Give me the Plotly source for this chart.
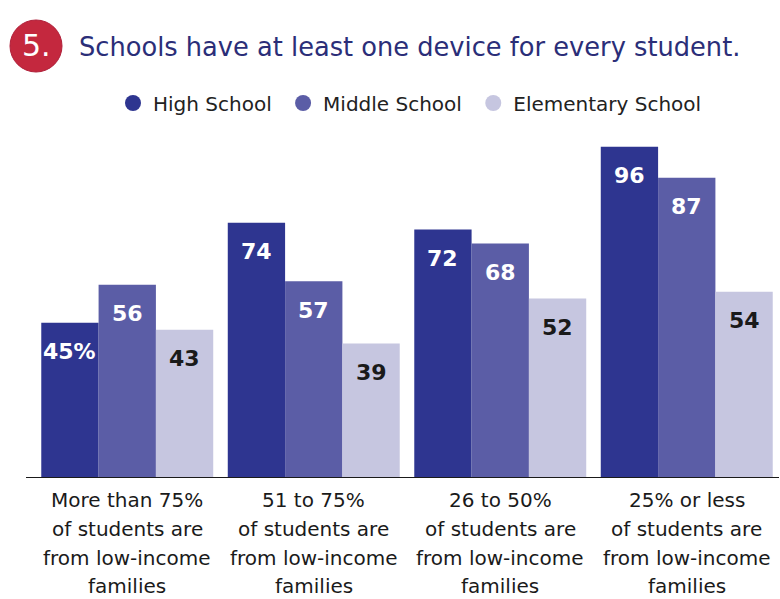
import plotly.graph_objects as go

categories = ["More than 75%", "51 to 75%", "26 to 50%", "25% or less"]
category_lines = [["More than 75%", "of students are", "from low-income", "families"],
                  ["51 to 75%", "of students are", "from low-income", "families"],
                  ["26 to 50%", "of students are", "from low-income", "families"],
                  ["25% or less", "of students are", "from low-income", "families"]]
series_names = ["High School", "Middle School", "Elementary School"]
high_school = [45, 74, 72, 96]
middle_school = [56, 57, 68, 87]
elementary_school = [43, 39, 52, 54]
values = [high_school, middle_school, elementary_school]
colors = ["#2e3590", "#5b5da6", "#c6c6e0"]
label_colors = ["white", "white", "#1a1a1a"]

W, H = 780, 599
L, R, T, B = 34, 0, 130, 121
PW, PH = W - L - R, H - T - B
FONT = "DejaVu Sans"

def px2paper_x(px):
    return (px - L) / PW

def px2paper_y(py):
    return (H - B - py) / PH

fig = go.Figure()
for name, vals, col in zip(series_names, values, colors):
    fig.add_trace(go.Bar(x=categories, y=vals, name=name, marker=dict(color=col, line=dict(width=0)),
                         showlegend=False, hoverinfo="skip"))
for name, col in zip(series_names, colors):
    fig.add_trace(go.Scatter(x=[None], y=[None], mode="markers", name=name + "\u00a0",
                             marker=dict(symbol="circle", size=20, color=col)))

bar_px = PW / 4 * (1 - 0.078) / 3
annotations = []
for si, (vals, lc) in enumerate(zip(values, label_colors)):
    for ci, v in enumerate(vals):
        txt = f"{v}%" if (si == 0 and ci == 0) else str(v)
        annotations.append(dict(x=categories[ci], y=v, text=f"<b>{txt}</b>", showarrow=False,
                                xshift=(si - 1) * bar_px, yshift=-29, yanchor="middle",
                                font=dict(family=FONT, size=22, color=lc)))

# category labels, one line each (line spacing as in the reference)
line_px = [500, 529, 558, 586]
for ci, lines in enumerate(category_lines):
    for li, line in enumerate(lines):
        annotations.append(dict(x=categories[ci], yref="paper", y=px2paper_y(line_px[li]), text=line,
                                showarrow=False, xanchor="center", yanchor="middle",
                                font=dict(family=FONT, size=20, color="#1a1a1a")))

# title
annotations.append(dict(xref="paper", yref="paper", x=px2paper_x(36), y=px2paper_y(46),
                        text="5.", showarrow=False, xanchor="center", yanchor="middle",
                        font=dict(family=FONT, size=30, color="white")))
annotations.append(dict(xref="paper", yref="paper", x=px2paper_x(77), y=px2paper_y(47),
                        text="Schools have at least one device for every student.", showarrow=False,
                        xanchor="left", yanchor="middle",
                        font=dict(family=FONT, size=25.7, color="#2b2e78")))

shapes = [
    dict(type="circle", xref="paper", yref="paper",
         x0=px2paper_x(10), x1=px2paper_x(62), y0=px2paper_y(72), y1=px2paper_y(20),
         fillcolor="#c4283e", line=dict(color="#b0203a", width=1), layer="above"),
    dict(type="line", xref="paper", yref="y", x0=px2paper_x(26), x1=px2paper_x(779), y0=0, y1=0,
         line=dict(color="#1a1a1a", width=2)),
]

fig.update_layout(
    width=W, height=H, margin=dict(l=L, r=R, t=T, b=B),
    paper_bgcolor="white", plot_bgcolor="white",
    barmode="group", bargap=0.078, bargroupgap=0,
    font=dict(family=FONT, color="#1a1a1a"),
    legend=dict(orientation="h", x=px2paper_x(413), xanchor="center", y=px2paper_y(103), yanchor="middle",
                font=dict(family=FONT, size=20, color="#222222"), itemwidth=30,
                bgcolor="rgba(0,0,0,0)"),
    annotations=annotations, shapes=shapes,
    xaxis=dict(showline=False, ticks="", showticklabels=False, showgrid=False, fixedrange=True),
    yaxis=dict(range=[0, PH / 3.45], visible=False, showgrid=False, zeroline=False, fixedrange=True),
)

fig.write_html("out.html")
